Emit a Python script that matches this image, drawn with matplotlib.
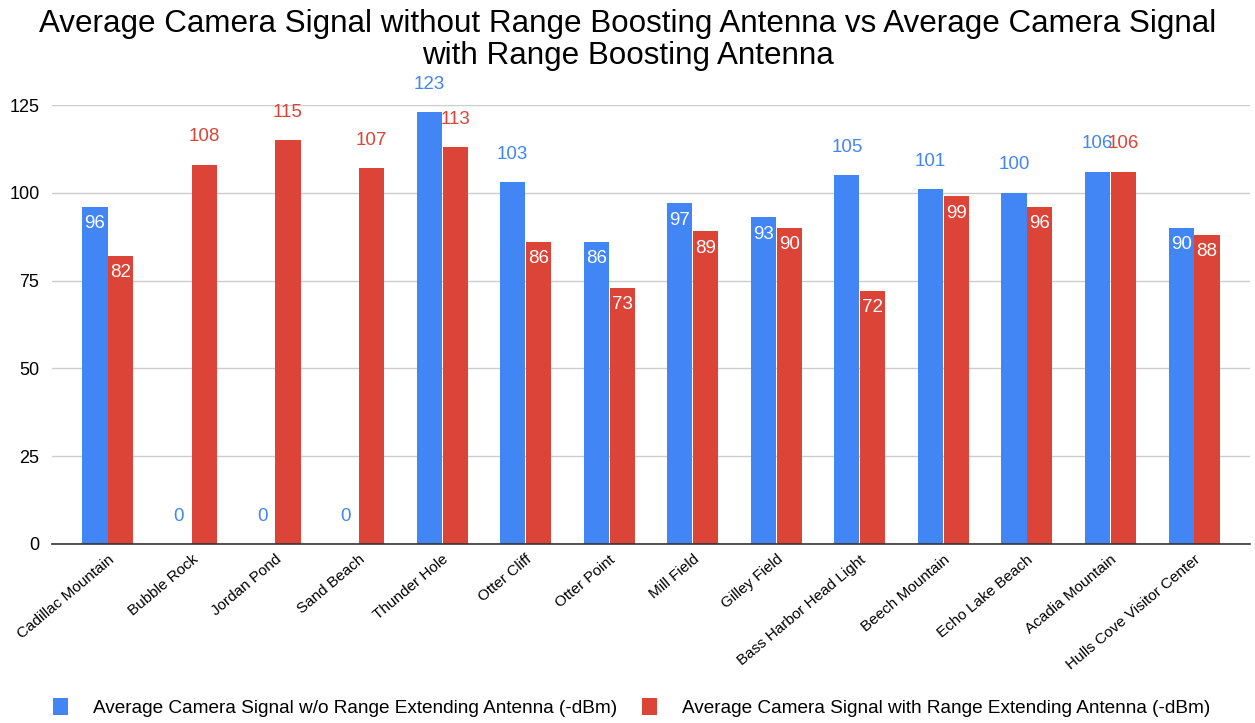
import matplotlib.pyplot as plt
import numpy as np

plt.rcParams['font.family'] = ['Liberation Sans', 'DejaVu Sans']

sites = ['Cadillac Mountain', 'Bubble Rock', 'Jordan Pond', 'Sand Beach', 'Thunder Hole',
         'Otter Cliff', 'Otter Point', 'Mill Field', 'Gilley Field', 'Bass Harbor Head Light',
         'Beech Mountain', 'Echo Lake Beach', 'Acadia Mountain', 'Hulls Cove Visitor Center']
without_ant = [96, 0, 0, 0, 123, 103, 86, 97, 93, 105, 101, 100, 106, 90]
with_ant = [82, 108, 115, 107, 113, 86, 73, 89, 90, 72, 99, 96, 106, 88]

blue = '#4285F4'
red = '#DB4437'

fig = plt.figure(figsize=(12.55, 7.23), dpi=100)
ax = fig.add_axes([52 / 1255, (723 - 544) / 723, 1198 / 1255, 439 / 723])

x = np.arange(len(sites))
w = 0.3
b1 = ax.bar(x - w / 2 - 0.005, without_ant, w, color=blue, zorder=3,
            label='Average Camera Signal w/o Range Extending Antenna (-dBm)')
b2 = ax.bar(x + w / 2 + 0.005, with_ant, w, color=red, zorder=3,
            label='Average Camera Signal with Range Extending Antenna (-dBm)')


def label_bars(bars, vals, col):
    for bar, v in zip(bars, vals):
        cx = bar.get_x() + bar.get_width() / 2
        if v == 0 or len(str(v)) >= 3:
            # labels that don't fit inside go on top, in series colour
            ax.annotate(str(v), (cx, v), xytext=(0, 14), textcoords='offset points',
                        ha='center', va='bottom', color=col, fontsize=13.5,
                        annotation_clip=False)
        else:
            ax.annotate(str(v), (cx, v), xytext=(0, -6), textcoords='offset points',
                        ha='center', va='top', color='white', fontsize=13.5, zorder=4)


label_bars(b1, without_ant, blue)
label_bars(b2, with_ant, red)

ax.set_ylim(0, 125)
ax.set_xlim(-0.67, len(sites) - 1 + 0.67)
ax.set_yticks([0, 25, 50, 75, 100, 125])
ax.tick_params(axis='y', length=0, pad=9, labelsize=13)
ax.tick_params(axis='x', length=0, pad=6)
ax.set_xticks(x)
ax.set_xticklabels(sites, rotation=40, ha='right', rotation_mode='anchor', fontsize=11)
ax.yaxis.grid(True, color='#cccccc', linewidth=1, zorder=0)
for s in ['top', 'right', 'left']:
    ax.spines[s].set_visible(False)
ax.spines['bottom'].set_color('#333333')
ax.spines['bottom'].set_linewidth(1.2)
ax.spines['bottom'].set_zorder(5)

fig.suptitle('Average Camera Signal without Range Boosting Antenna vs Average Camera Signal\n'
             'with Range Boosting Antenna', fontsize=22.6, y=0.987, linespacing=1.05)

fig.legend(loc='lower center', bbox_to_anchor=(0.503, -0.016), ncol=2, frameon=False,
           fontsize=13.7, handlelength=0.8, handleheight=1.0, columnspacing=1.3,
           handletextpad=1.3)

fig.savefig('out.png', dpi=100)
